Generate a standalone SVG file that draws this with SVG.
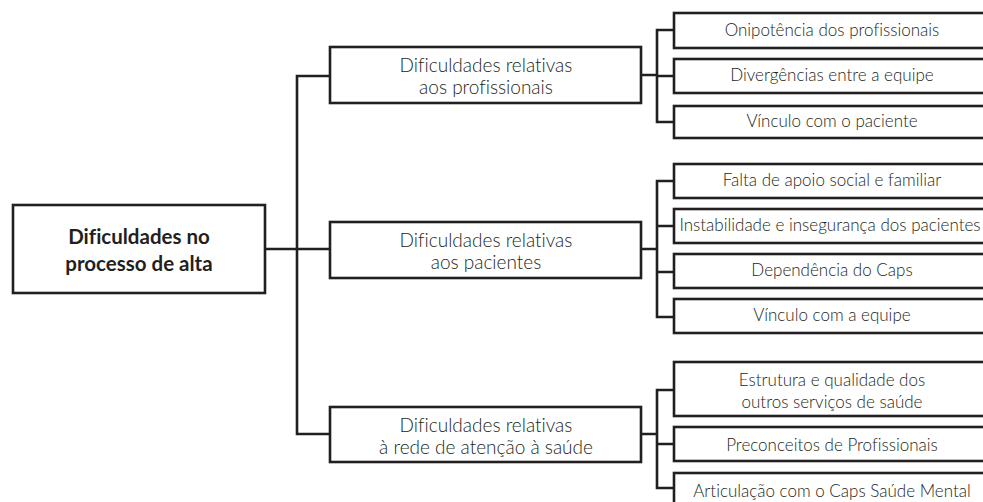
<svg xmlns="http://www.w3.org/2000/svg" width="983" height="502" viewBox="0 0 983 502">
<style>
.box{fill:#fff;stroke:#231f20;stroke-width:2.6}
.ln{fill:none;stroke:#231f20;stroke-width:2.6;stroke-linejoin:miter;stroke-linecap:square}
text{font-family:Lato,"Liberation Sans",sans-serif;fill:#231f20;text-anchor:middle;font-variant-ligatures:none}
.root{font-size:20.5px;font-weight:bold}
.mid{font-size:19px;font-weight:300}
.leaf{font-size:17px;font-weight:300}
</style>
<rect width="983" height="502" fill="#fff"/>
<g id="connectors">
<path class="ln" d="M265,249 H297 M297,76 V434 M297,76 H330 M297,249 H330 M297,434 H330"/>
<path class="ln" d="M641,75 H657 M657,30 V122 M657,30 H674 M657,76 H674 M657,122 H674"/>
<path class="ln" d="M641,249 H657 M657,181 V317 M657,181 H674 M657,226 H674 M657,272 H674 M657,317 H674"/>
<path class="ln" d="M641,434 H657 M657,390 V488 M657,390 H674 M657,444 H674 M657,488 H674"/>
</g>
<g id="root"><rect class="box" x="13" y="205" width="252" height="88"/><text class="root" x="139" y="244">Dificuldades no</text><text class="root" x="139" y="271">processo de alta</text></g>
<g id="mid1"><rect class="box" x="330" y="47" width="311" height="56"/><text class="mid" x="486" y="72">Dificuldades relativas</text><text class="mid" x="486" y="94">aos profissionais</text></g>
<g id="mid2"><rect class="box" x="330" y="222" width="311" height="56"/><text class="mid" x="486" y="247">Dificuldades relativas</text><text class="mid" x="486" y="269">aos pacientes</text></g>
<g id="mid3"><rect class="box" x="330" y="407" width="311" height="55"/><text class="mid" x="486" y="432">Dificuldades relativas</text><text class="mid" x="486" y="454">à rede de atenção à saúde</text></g>
<g id="leaf1"><rect class="box" x="674" y="13" width="316" height="35"/><text class="leaf" x="832" y="36">Onipotência dos profissionais</text></g>
<g id="leaf2"><rect class="box" x="674" y="59" width="316" height="34"/><text class="leaf" x="832" y="81">Divergências entre a equipe</text></g>
<g id="leaf3"><rect class="box" x="674" y="106" width="316" height="32"/><text class="leaf" x="832" y="127">Vínculo com o paciente</text></g>
<g id="leaf4"><rect class="box" x="674" y="164" width="316" height="34"/><text class="leaf" x="832" y="186">Falta de apoio social e familiar</text></g>
<g id="leaf5"><rect class="box" x="674" y="209" width="316" height="34"/><text class="leaf" x="830" y="231">Instabilidade e insegurança dos pacientes</text></g>
<g id="leaf6"><rect class="box" x="674" y="254" width="316" height="34"/><text class="leaf" x="832" y="276">Dependência do Caps</text></g>
<g id="leaf7"><rect class="box" x="674" y="299" width="316" height="34"/><text class="leaf" x="832" y="321">Vínculo com a equipe</text></g>
<g id="leaf8"><rect class="box" x="674" y="362" width="316" height="54"/><text class="leaf" x="832" y="386">Estrutura e qualidade dos</text><text class="leaf" x="832" y="408">outros serviços de saúde</text></g>
<g id="leaf9"><rect class="box" x="674" y="427" width="316" height="34"/><text class="leaf" x="832" y="451">Preconceitos de Profissionais</text></g>
<g id="leaf10"><rect class="box" x="674" y="473" width="316" height="40"/><text class="leaf" x="832" y="497">Articulação com o Caps Saúde Mental</text></g>
</svg>
